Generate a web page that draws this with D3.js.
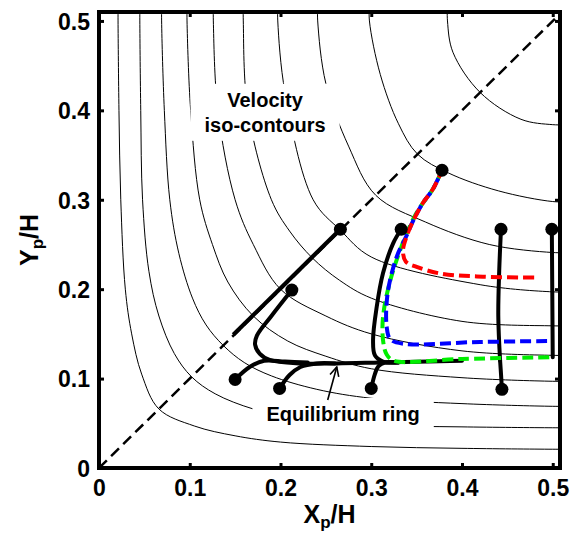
<!DOCTYPE html>
<html><head><meta charset="utf-8">
<script src="https://cdn.jsdelivr.net/npm/d3@7"></script>
<style>
body{margin:0;background:#fff}
svg{display:block}
text{font-family:"Liberation Sans",Arial,Helvetica,sans-serif;font-weight:bold;fill:#000}
</style>
</head><body>
<svg id="chart" width="571" height="533"></svg>
<script>
// ---------- data ----------
const xTicks = [0, 0.1, 0.2, 0.3, 0.4, 0.5];
const yTicks = [0, 0.1, 0.2, 0.3, 0.4, 0.5];
const xTickLabels = ["0", "0.1", "0.2", "0.3", "0.4", "0.5"];
const yTickLabels = ["0", "0.1", "0.2", "0.3", "0.4", "0.5"];

// velocity iso-contours: half curve from top edge down to the diagonal (mirrored about y = x)
const isoContours = [
  [[0.021,0.52],[0.021,0.5],[0.022,0.4],[0.024,0.3],[0.029,0.2],[0.036,0.15],[0.047,0.105],[0.066,0.066]],
  [[0.045,0.52],[0.045,0.5],[0.046,0.4],[0.048,0.3],[0.055,0.22],[0.066,0.17],[0.083,0.128],[0.102,0.102]],
  [[0.069,0.52],[0.069,0.5],[0.072,0.4],[0.078,0.3],[0.088,0.24],[0.103,0.19],[0.118,0.16],[0.137,0.137]],
  [[0.097,0.52],[0.097,0.5],[0.101,0.4],[0.111,0.3],[0.125,0.25],[0.142,0.208],[0.17,0.17]],
  [[0.126,0.52],[0.126,0.5],[0.131,0.4],[0.15,0.3],[0.17,0.25],[0.2,0.2]],
  [[0.159,0.52],[0.159,0.5],[0.164,0.4],[0.19,0.3],[0.21,0.265],[0.235,0.235]],
  [[0.197,0.52],[0.197,0.5],[0.205,0.42],[0.236,0.3],[0.266,0.266]],
  [[0.241,0.52],[0.241,0.5],[0.25,0.43],[0.275,0.36],[0.305,0.305]],
  [[0.298,0.52],[0.298,0.5],[0.31,0.44],[0.33,0.385],[0.351,0.351]],
  [[0.384,0.52],[0.384,0.5],[0.39,0.465],[0.42,0.42]]
];

const diagonal = [[0, 0], [0.508, 0.508]];

// particle trajectories (black)
const trajDiag = [[0.266,0.267],[0.148,0.149]];
const trajA = [[0.2125,0.199],[0.19,0.17],[0.174,0.148],[0.172,0.138],[0.177,0.128],[0.188,0.121],[0.221,0.117],[0.262,0.117],[0.31,0.118],[0.40,0.12]];
const trajB = [[0.15,0.099],[0.166,0.113],[0.182,0.12],[0.205,0.119],[0.23,0.118]];
const trajC = [[0.199,0.089],[0.21,0.104],[0.222,0.113],[0.24,0.117],[0.26,0.117]];
const trajD = [[0.3,0.089],[0.304,0.105],[0.308,0.114],[0.315,0.118],[0.33,0.118]];
const trajE = [[0.333,0.267],[0.324,0.251],[0.313,0.218],[0.306,0.18],[0.302,0.143],[0.304,0.126],[0.313,0.119],[0.33,0.118]];
const trajF = [[0.443,0.267],[0.441,0.22],[0.440,0.17],[0.442,0.12]];
const trajG = [[0.444,0.088],[0.443,0.105],[0.442,0.12]];
const trajH = [[0.499,0.267],[0.5,0.124]];

// coloured trajectories
const trajRed = [[0.378,0.333],[0.368,0.312],[0.356,0.295],[0.346,0.276],[0.339,0.259],[0.335,0.243],[0.338,0.231],[0.35,0.225],[0.376,0.2175],[0.423,0.214],[0.482,0.213]];
const trajBlue = [[0.378,0.333],[0.368,0.312],[0.356,0.295],[0.346,0.276],[0.339,0.26],[0.328,0.236],[0.318,0.195],[0.317,0.158],[0.321,0.144],[0.335,0.139],[0.42,0.141],[0.495,0.142]];
const trajGreen = [[0.378,0.333],[0.368,0.312],[0.356,0.295],[0.346,0.278],[0.332,0.244],[0.320,0.206],[0.313,0.169],[0.313,0.143],[0.317,0.127],[0.325,0.12],[0.4,0.122],[0.5,0.124]];

// release points
const startPoints = [[0.266,0.267],[0.2125,0.199],[0.15,0.099],[0.199,0.089],[0.3,0.089],[0.333,0.267],[0.378,0.333],[0.443,0.267],[0.444,0.088],[0.499,0.267]];

// annotations
const arrowLine = [[0.252,0.076],[0.262,0.113]];

// ---------- drawing ----------
const svg = d3.select("#chart");
const x = d3.scaleLinear().domain([0, 0.508]).range([99, 560]);
const y = d3.scaleLinear().domain([0, 0.51]).range([468, 12]);

svg.append("defs").append("clipPath").attr("id","plotclip")
  .append("rect").attr("x",x(0)).attr("y",y(0.51)).attr("width",x(0.508)-x(0)).attr("height",y(0)-y(0.51));

const smooth = d3.line().x(d=>x(d[0])).y(d=>y(d[1])).curve(d3.curveCatmullRom.alpha(0.5));
const straight = d3.line().x(d=>x(d[0])).y(d=>y(d[1]));

const plot = svg.append("g").attr("clip-path","url(#plotclip)");

// contours
isoContours.forEach(half => {
  const full = half.concat(half.slice(0,-1).reverse().map(([a,b]) => [b,a]));
  plot.append("path").attr("d", smooth(full)).attr("fill","none").attr("stroke","#000").attr("stroke-width",1);
});

// text labels with white backgrounds
function label(lines, cx, baselines){
  const g = svg.append("g");
  const rects = g.append("g");
  const texts = lines.map((t,i) => g.append("text").attr("x", x(cx)).attr("y", y(baselines[i]))
      .attr("text-anchor","middle").attr("font-size",20).text(t));
  let x0=Infinity,x1=-Infinity,y0=Infinity,y1=-Infinity;
  texts.forEach(t => { const b=t.node().getBBox(); x0=Math.min(x0,b.x); x1=Math.max(x1,b.x+b.width); y0=Math.min(y0,b.y); y1=Math.max(y1,b.y+b.height); });
  rects.append("rect").attr("x",x0-14).attr("y",y0-5).attr("width",x1-x0+28).attr("height",y1-y0+10).attr("fill","#fff");
}
label(["Velocity","iso-contours"], 0.183, [0.404, 0.376]);
label(["Equilibrium ring"], 0.269, [0.0526]);

// diagonal
plot.append("path").attr("d", straight(diagonal)).attr("fill","none").attr("stroke","#000")
  .attr("stroke-width",2.5).attr("stroke-dasharray","11,6");

// black trajectories
[trajA,trajB,trajC,trajD,trajE,trajF,trajG,trajH].forEach(t => {
  plot.append("path").attr("d", smooth(t)).attr("fill","none").attr("stroke","#000")
    .attr("stroke-width",4).attr("stroke-linecap","round").attr("stroke-linejoin","round");
});
plot.append("path").attr("d", straight(trajDiag)).attr("fill","none").attr("stroke","#000").attr("stroke-width",4.2);

// coloured trajectories
[[trajGreen,"#00ee00","11,5",0],[trajBlue,"#0000ff","11,5",7],[trajRed,"#ff0000","11,5",3]].forEach(([t,c,da,off]) => {
  plot.append("path").attr("d", smooth(t)).attr("fill","none").attr("stroke",c)
    .attr("stroke-width",4).attr("stroke-dasharray",da).attr("stroke-dashoffset",off);
});

// dots
plot.selectAll("circle.pt").data(startPoints).join("circle").attr("class","pt")
  .attr("cx",d=>x(d[0])).attr("cy",d=>y(d[1])).attr("r",6.5).attr("fill","#000");

// arrow
svg.append("defs").append("marker").attr("id","arr").attr("viewBox","-10 -6 12 12")
  .attr("refX",0).attr("refY",0).attr("markerWidth",12).attr("markerHeight",12)
  .attr("markerUnits","userSpaceOnUse").attr("orient","auto")
  .append("path").attr("d","M-9,-4.5L0,0L-9,4.5").attr("fill","none").attr("stroke","#000").attr("stroke-width",1.6);
svg.append("path").attr("d", straight(arrowLine)).attr("stroke","#000").attr("stroke-width",1.6)
  .attr("fill","none").attr("marker-end","url(#arr)");

// axes (box with inward ticks)
const axG = svg.append("g");
const axisBottom = d3.axisBottom(x).tickValues(xTicks).tickFormat((d,i)=>xTickLabels[i]).tickSizeInner(-5).tickSizeOuter(0).tickPadding(12);
const axisTop = d3.axisTop(x).tickValues(xTicks).tickFormat("").tickSizeInner(-5).tickSizeOuter(0);
const axisLeft = d3.axisLeft(y).tickValues(yTicks).tickFormat((d,i)=>yTickLabels[i]).tickSizeInner(-5).tickSizeOuter(0).tickPadding(9);
const axisRight = d3.axisRight(y).tickValues(yTicks).tickFormat("").tickSizeInner(-5).tickSizeOuter(0);
const gb = axG.append("g").attr("transform",`translate(0,${y(0)})`).call(axisBottom);
const gt = axG.append("g").attr("transform",`translate(0,${y(0.51)})`).call(axisTop);
const gl = axG.append("g").attr("transform",`translate(${x(0)},0)`).call(axisLeft);
const gr = axG.append("g").attr("transform",`translate(${x(0.508)},0)`).call(axisRight);
[gb,gt,gl,gr].forEach(g => {
  g.select(".domain").remove();
  g.selectAll(".tick line").attr("stroke","#000").attr("stroke-width",3);
  g.selectAll(".tick text").attr("font-size",23).attr("font-family",null).attr("fill","#000");
});
gb.selectAll(".tick text").attr("dy","0.71em");
gl.selectAll(".tick text").attr("dy","0.36em");
axG.append("rect").attr("x",x(0)).attr("y",y(0.51)).attr("width",x(0.508)-x(0)).attr("height",y(0)-y(0.51))
  .attr("fill","none").attr("stroke","#000").attr("stroke-width",4);

// axis titles
const xl = svg.append("text").attr("x",(x(0)+x(0.508))/2).attr("y",523).attr("text-anchor","middle").attr("font-size",25);
xl.append("tspan").text("X");
xl.append("tspan").attr("font-size",17).attr("dy",5).text("p");
xl.append("tspan").attr("dy",-5).text("/H");
const yl = svg.append("text").attr("transform",`translate(38,${(y(0)+y(0.51))/2}) rotate(-90)`).attr("text-anchor","middle").attr("font-size",25);
yl.append("tspan").text("Y");
yl.append("tspan").attr("font-size",17).attr("dy",5).text("p");
yl.append("tspan").attr("dy",-5).text("/H");
</script>
</body></html>
